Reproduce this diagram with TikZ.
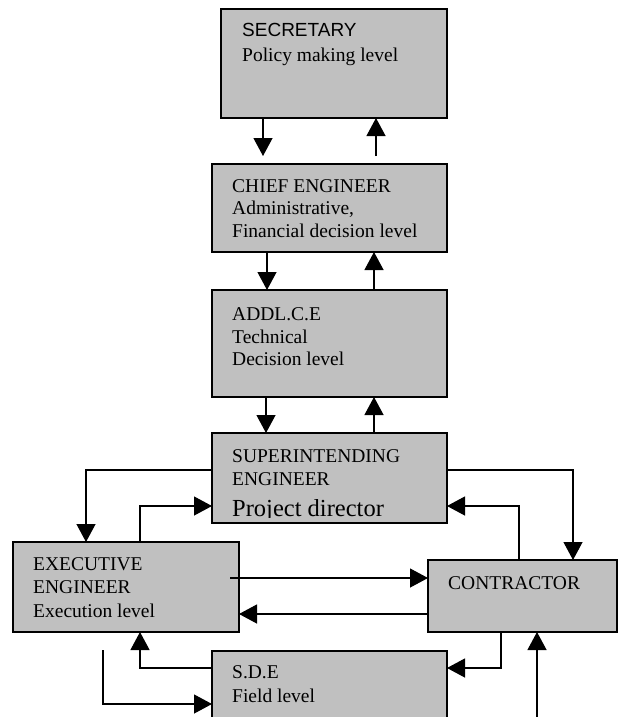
\documentclass[tikz,border=0pt]{standalone}
\usepackage{fontspec}
\setmainfont{Liberation Serif}
\newfontfamily\arialfont{Liberation Sans}
\usetikzlibrary{arrows.meta}
\definecolor{boxgray}{HTML}{C0C0C0}
\begin{document}
\begin{tikzpicture}[x=1pt,y=-1pt,
  box/.style={draw=black, fill=boxgray, line width=1.2pt, anchor=north west,
              inner sep=0pt, outer sep=0pt},
  txt/.style={anchor=base west, inner sep=0pt, font=\fontsize{19.5}{23}\selectfont},
  link/.style={line width=1.2pt, -{Triangle[length=18pt,width=19pt]}}]
\clip (0,0) rectangle (619,717);

% boxes
\node[box, minimum width=226pt, minimum height=109pt] (sec)   at (221,9)   {};
\node[box, minimum width=235pt, minimum height=88pt]  (chief) at (212,164) {};
\node[box, minimum width=235pt, minimum height=107pt] (addl)  at (212,290) {};
\node[box, minimum width=235pt, minimum height=90pt]  (se)    at (212,433) {};
\node[box, minimum width=226pt, minimum height=90pt]  (ee)    at (13,542)  {};
\node[box, minimum width=189pt, minimum height=72pt]  (con)   at (428,560) {};
\node[box, minimum width=235pt, minimum height=90pt]  (sde)   at (212,651) {};

% box texts
\node[txt, font=\arialfont\fontsize{19}{23}\selectfont] (sec1) at (242,37) {SECRETARY};
\node[txt] (sec2) at (242,61) {Policy making level};
\node[txt] (chief1) at (232,192) {CHIEF ENGINEER};
\node[txt] (chief2) at (232,214) {Administrative,};
\node[txt] (chief3) at (232,237) {Financial decision level};
\node[txt] (addl1) at (232,320) {ADDL.C.E};
\node[txt] (addl2) at (232,343) {Technical};
\node[txt] (addl3) at (232,365) {Decision level};
\node[txt] (se1) at (232,462) {SUPERINTENDING};
\node[txt] (se2) at (232,485) {ENGINEER};
\begin{scope}
  \clip (se.north west) rectangle ([yshift=6pt]se.south east);
  \node[txt, font=\fontsize{24.5}{28}\selectfont] (se3) at (232,516) {Project director};
\end{scope}
\node[txt] (ee1) at (33,570) {EXECUTIVE};
\node[txt] (ee2) at (33,593) {ENGINEER};
\node[txt] (ee3) at (33,617) {Execution level};
\node[txt] (con1) at (448,589) {CONTRACTOR};
\node[txt] (sde1) at (232,678) {S.D.E};
\node[txt] (sde2) at (232,702) {Field level};

% columns and rows used by the connectors
\coordinate (dnA) at (263,0);
\coordinate (upA) at (376,0);
\coordinate (dnB) at (267,0);
\coordinate (upB) at (374,0);
\coordinate (dnC) at (266,0);
\coordinate (colL) at (86,0);
\coordinate (colM) at (140,0);
\coordinate (colP) at (501,0);
\coordinate (colQ) at (519,0);
\coordinate (colR) at (573,0);
\coordinate (rowA) at (0,470);
\coordinate (rowB) at (0,506);
\coordinate (rowD) at (0,614);
\coordinate (rowE) at (0,668);
\coordinate (rowF) at (0,704);
\coordinate (eeOut) at (230,578);
\coordinate (feedIn) at (103,650);
\coordinate (feedCon) at (537,725);

% vertical chain
\draw[link, shorten >=8pt] (sec.south -| dnA) -- (chief.north -| dnA);
\draw[link, shorten <=8pt] (chief.north -| upA) -- (sec.south -| upA);
\draw[link] (chief.south -| dnB) -- (addl.north -| dnB);
\draw[link] (addl.north -| upB) -- (chief.south -| upB);
\draw[link] (addl.south -| dnC) -- (se.north -| dnC);
\draw[link] (se.north -| upB) -- (addl.south -| upB);

% superintending engineer <-> executive engineer
\draw[link] (se.west |- rowA) -| (ee.north -| colL);
\draw[link] (ee.north -| colM) |- (se.west |- rowB);

% executive engineer <-> contractor
\draw[link] (eeOut) -- (con.west |- eeOut);
\draw[link] (con.west |- rowD) -- (ee.east |- rowD);

% superintending engineer <-> contractor
\draw[link] (se.east |- rowA) -| (con.north -| colR);
\draw[link] (con.north -| colQ) |- (se.east |- rowB);

% S.D.E links
\draw[link] (con.south -| colP) |- (sde.east |- rowE);
\draw[link] (sde.west |- rowE) -| (ee.south -| colM);
\draw[link] (feedIn) |- (sde.west |- rowF);
\draw[link] (feedCon) -- (con.south -| feedCon);
\end{tikzpicture}
\end{document}
